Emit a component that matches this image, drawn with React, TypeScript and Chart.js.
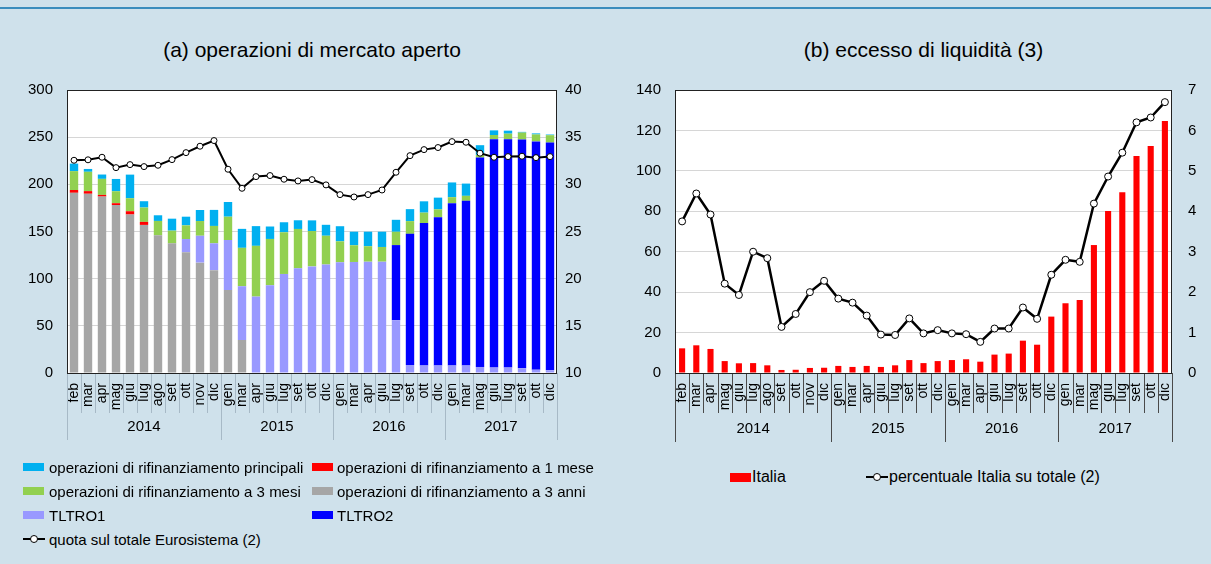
import React, { useEffect, useRef } from 'react';
import { Chart, registerables } from 'chart.js';

Chart.register(...registerables);

// ---------- data ----------
const monthLabels = ['feb','mar','apr','mag','giu','lug','ago','set','ott','nov','dic','gen','mar','apr','giu','lug','set','ott','dic','gen','mar','apr','giu','lug','set','ott','dic','gen','mar','mag','giu','lug','set','ott','dic'];
const yearLabels = ['2014', '2015', '2016', '2017'];

const ltro3y = [191, 190, 187, 178, 168, 157, 146, 137.5, 128, 117, 109, 88, 35, 0, 0, 0, 0, 0, 0, 0, 0, 0, 0, 0, 0, 0, 0, 0, 0, 0, 0, 0, 0, 0, 0];
const ltro1m = [3, 2.8, 1.8, 2, 3.5, 3.2, 0, 0, 0, 0, 0, 0, 0, 0, 0, 0, 0, 0, 0, 0, 0, 0, 0, 0, 0, 0, 0, 0, 0, 0, 0, 0, 0, 0, 0];
const tltro1 = [0, 0, 0, 0, 0, 0, 0, 0, 14, 28.5, 28.5, 53, 57, 81, 93, 105, 111, 113, 115, 117.4, 117.7, 118, 118, 56, 8.5, 8, 8, 8, 8, 6.4, 5.7, 5.7, 5, 3.5, 2.8];
const tltro2 = [0, 0, 0, 0, 0, 0, 0, 0, 0, 0, 0, 0, 0, 0, 0, 0, 0, 0, 0, 0, 0, 0, 0, 79.6, 139, 151, 157, 172, 174.5, 222, 242, 242, 242.5, 242, 241.5];
const ltro3m = [20, 20.5, 17, 12.7, 13.8, 15.2, 15.2, 13.4, 14.5, 15.6, 18.4, 24.7, 40.7, 53.8, 49.1, 44.2, 41.7, 37.5, 30.5, 22.2, 17.7, 16.4, 15.6, 14.1, 13.5, 11, 8.5, 6.4, 5.3, 2.8, 4.6, 6, 7.4, 7.4, 7.8];
const mro = [8, 3, 4.6, 13, 25, 6.7, 6, 12.7, 9.2, 11.7, 17, 15.6, 20.1, 20.9, 13.2, 10.6, 9.2, 11.3, 11.6, 16, 14.4, 15.4, 16.2, 12.7, 12.7, 12, 12.4, 15.6, 13, 10.3, 4.9, 3.2, 0.7, 1.1, 0.7];
const quota = [32.55, 32.6, 32.87, 31.77, 32.09, 31.88, 32.02, 32.62, 33.36, 34.04, 34.64, 31.6, 29.58, 30.82, 30.93, 30.54, 30.36, 30.5, 29.94, 28.91, 28.66, 28.91, 29.4, 31.28, 33.04, 33.68, 33.9, 34.53, 34.46, 33.3, 32.87, 32.94, 32.98, 32.83, 32.94];

const italia = [12.2, 13.7, 11.9, 5.9, 4.8, 4.9, 3.8, 1.5, 1.6, 2.5, 2.6, 3.5, 3.0, 3.5, 3.0, 3.8, 6.4, 4.9, 5.9, 6.4, 6.8, 5.6, 9.1, 9.6, 16.0, 14.0, 27.9, 34.5, 36.1, 63.3, 80.2, 89.4, 107.4, 112.3, 124.7];
const percentuale = [3.75, 4.44, 3.92, 2.21, 1.93, 3.0, 2.84, 1.14, 1.46, 2.0, 2.28, 1.84, 1.74, 1.42, 0.95, 0.94, 1.35, 0.98, 1.06, 0.98, 0.96, 0.77, 1.1, 1.1, 1.62, 1.34, 2.43, 2.8, 2.75, 4.19, 4.86, 5.45, 6.2, 6.32, 6.7];

const titleA = '(a) operazioni di mercato aperto';
const titleB = '(b) eccesso di liquidità (3)';

const L_MRO = 'operazioni di rifinanziamento principali';
const L_1M = 'operazioni di rifinanziamento a 1 mese';
const L_3M = 'operazioni di rifinanziamento a 3 mesi';
const L_3Y = 'operazioni di rifinanziamento a 3 anni';
const L_T1 = 'TLTRO1';
const L_T2 = 'TLTRO2';
const L_QUOTA = 'quota sul totale Eurosistema (2)';
const L_ITA = 'Italia';
const L_PERC = 'percentuale Italia su totale (2)';

// ---------- styles ----------
const BG = '#cfe1eb';
const FONT = "'Liberation Sans', Arial, Helvetica, sans-serif";
const C_MRO = '#00b0f0';
const C_1M = '#ff0000';
const C_3M = '#92d050';
const C_3Y = '#a6a6a6';
const C_T1 = '#9999ff';
const C_T2 = '#0000ff';
const C_ITA = '#ff0000';

Chart.defaults.font.family = FONT;
Chart.defaults.color = '#000';

const groupAxisPlugin = {
  id: 'groupAxis',
  beforeDraw(chart: any) {
    const { ctx, chartArea: ca } = chart;
    ctx.save();
    ctx.fillStyle = '#ffffff';
    ctx.fillRect(ca.left, ca.top, ca.right - ca.left, ca.bottom - ca.top);
    ctx.restore();
  },
  afterDraw(chart: any, _args: any, opts: any) {
    const { ctx, chartArea: ca, scales } = chart;
    const x = scales.x;
    const labels = chart.data.labels as string[];
    const n = labels.length;
    const starts = [0];
    labels.forEach((l, i) => { if (i > 0 && l === 'gen') starts.push(i); });
    const bound = (i: number) =>
      i <= 0 ? ca.left : i >= n ? ca.right : (x.getPixelForValue(i - 1) + x.getPixelForValue(i)) / 2;
    ctx.save();
    ctx.lineWidth = 1;
    ctx.strokeStyle = opts.sepColor;
    for (let i = 0; i <= n; i++) {
      const px = Math.round(bound(i)) + 0.5;
      const isYear = i === 0 || i === n || starts.includes(i);
      ctx.beginPath();
      ctx.moveTo(px, ca.bottom);
      ctx.lineTo(px, ca.bottom + (isYear ? opts.yearLen : opts.monthLen));
      ctx.stroke();
    }
    ctx.fillStyle = '#000';
    ctx.font = `${opts.yearFont}px ${FONT}`;
    ctx.textAlign = 'center';
    ctx.textBaseline = 'middle';
    (opts.years as string[]).forEach((yr, k) => {
      const a = bound(starts[k]);
      const b = bound(k + 1 < starts.length ? starts[k + 1] : n);
      ctx.fillText(yr, (a + b) / 2, ca.bottom + opts.yearOffset);
    });
    ctx.strokeStyle = opts.boxColor;
    ctx.strokeRect(Math.round(ca.left) + 0.5, Math.round(ca.top) + 0.5, Math.round(ca.right - ca.left) - 1, Math.round(ca.bottom - ca.top));
    ctx.restore();
  },
};

function barDs(label: string, data: number[], color: string) {
  return {
    type: 'bar' as const,
    label,
    data,
    backgroundColor: color,
    borderWidth: 0,
    barPercentage: 0.6,
    categoryPercentage: 1,
    yAxisID: 'y',
    order: 1,
  };
}

function leftConfig(): any {
  return {
    type: 'bar',
    data: {
      labels: monthLabels,
      datasets: [
        {
          type: 'line',
          label: L_QUOTA,
          data: quota,
          yAxisID: 'y1',
          borderColor: '#000',
          borderWidth: 2,
          pointRadius: 3,
          pointBackgroundColor: '#fff',
          pointBorderColor: '#000',
          pointBorderWidth: 1,
          tension: 0,
          order: 0,
        },
        barDs(L_3Y, ltro3y, C_3Y),
        barDs(L_1M, ltro1m, C_1M),
        barDs(L_T1, tltro1, C_T1),
        barDs(L_T2, tltro2, C_T2),
        barDs(L_3M, ltro3m, C_3M),
        barDs(L_MRO, mro, C_MRO),
      ],
    },
    options: {
      responsive: false,
      animation: false,
      devicePixelRatio: 1,
      layout: { padding: { top: 30, left: 0, right: 0, bottom: 0 } },
      plugins: {
        legend: { display: false },
        tooltip: { enabled: false },
        title: { display: false },
        groupAxis: { sepColor: '#a7b9c6', boxColor: '#222', monthLen: 40, yearLen: 67, yearOffset: 54, yearFont: 15, years: yearLabels },
      },
      scales: {
        x: {
          stacked: true,
          offset: true,
          grid: { display: false, drawTicks: false },
          border: { display: false },
          ticks: { autoSkip: false, maxRotation: 90, minRotation: 90, padding: 10, font: { size: 14 }, color: '#000' },
          afterFit: (s: any) => { s.height = 87; },
        },
        y: {
          stacked: true,
          position: 'left',
          min: 0,
          max: 300,
          ticks: { stepSize: 50, padding: 14, font: { size: 15 }, color: '#000' },
          grid: { color: '#d6d6d6', drawTicks: false },
          border: { display: false },
          afterFit: (s: any) => { s.width = 67; },
        },
        y1: {
          position: 'right',
          min: 10,
          max: 40,
          ticks: { stepSize: 5, padding: 8, font: { size: 15 }, color: '#000' },
          grid: { display: false, drawTicks: false },
          border: { display: false },
          afterFit: (s: any) => { s.width = 48; },
        },
      },
    },
    plugins: [groupAxisPlugin],
  };
}

function rightConfig(): any {
  return {
    type: 'bar',
    data: {
      labels: monthLabels,
      datasets: [
        {
          type: 'line',
          label: L_PERC,
          data: percentuale,
          yAxisID: 'y1',
          borderColor: '#000',
          borderWidth: 2.5,
          pointRadius: 3.5,
          pointBackgroundColor: '#fff',
          pointBorderColor: '#000',
          pointBorderWidth: 1,
          tension: 0,
          order: 0,
        },
        {
          type: 'bar',
          label: L_ITA,
          data: italia,
          backgroundColor: C_ITA,
          borderWidth: 0,
          barPercentage: 0.43,
          categoryPercentage: 1,
          yAxisID: 'y',
          order: 1,
        },
      ],
    },
    options: {
      responsive: false,
      animation: false,
      devicePixelRatio: 1,
      layout: { padding: { top: 30, left: 0, right: 0, bottom: 0 } },
      plugins: {
        legend: { display: false },
        tooltip: { enabled: false },
        title: { display: false },
        groupAxis: { sepColor: '#4a4a4a', boxColor: '#222', monthLen: 40, yearLen: 69, yearOffset: 56, yearFont: 15, years: yearLabels },
      },
      scales: {
        x: {
          offset: true,
          grid: { display: false, drawTicks: false },
          border: { display: false },
          ticks: { autoSkip: false, maxRotation: 90, minRotation: 90, padding: 10, font: { size: 14 }, color: '#000' },
          afterFit: (s: any) => { s.height = 87; },
        },
        y: {
          position: 'left',
          min: 0,
          max: 140,
          ticks: { stepSize: 20, padding: 14, font: { size: 15 }, color: '#000' },
          grid: { color: '#d6d6d6', drawTicks: false },
          border: { display: false },
          afterFit: (s: any) => { s.width = 70; },
        },
        y1: {
          position: 'right',
          min: 0,
          max: 7,
          ticks: { stepSize: 1, padding: 16, font: { size: 15 }, color: '#000' },
          grid: { display: false, drawTicks: false },
          border: { display: false },
          afterFit: (s: any) => { s.width = 39; },
        },
      },
    },
    plugins: [groupAxisPlugin],
  };
}

function Swatch({ color, left, top }: { color: string; left: number; top: number }) {
  return <div style={{ position: 'absolute', left, top, width: 21, height: 8, background: color }} />;
}

function LineSym({ left, top, w }: { left: number; top: number; w: number }) {
  return (
    <div style={{ position: 'absolute', left, top, width: w, height: 10 }}>
      <div style={{ position: 'absolute', left: 0, top: 4, width: w, height: 2, background: '#000' }} />
      <div style={{ position: 'absolute', left: w / 2 - 4, top: 1, width: 6, height: 6, borderRadius: '50%', background: '#fff', border: '1px solid #000' }} />
    </div>
  );
}

function Txt({ children, left, top, size }: { children: React.ReactNode; left: number; top: number; size: number }) {
  return (
    <div style={{ position: 'absolute', left, top, fontSize: size, lineHeight: '1', whiteSpace: 'nowrap', color: '#000' }}>
      {children}
    </div>
  );
}

export default function App() {
  const leftRef = useRef<HTMLCanvasElement>(null);
  const rightRef = useRef<HTMLCanvasElement>(null);

  useEffect(() => {
    const c1 = new Chart(leftRef.current as HTMLCanvasElement, leftConfig());
    const c2 = new Chart(rightRef.current as HTMLCanvasElement, rightConfig());
    return () => {
      c1.destroy();
      c2.destroy();
    };
  }, []);

  const lf = 15;
  const rf = 16;
  const rows = [467, 491, 515, 539];
  const c1s = 23;
  const c1t = 49;
  const c2s = 312;
  const c2t = 337;

  return (
    <div style={{ position: 'absolute', left: 0, top: 0, width: 1211, height: 564, background: BG, overflow: 'hidden', fontFamily: FONT }}>
      <div style={{ position: 'absolute', left: 0, top: 7, width: 1211, height: 2, background: '#3b8dbd' }} />
      <div style={{ position: 'absolute', left: 67, width: 490, top: 39, textAlign: 'center', fontSize: 21, lineHeight: '22px' }}>{titleA}</div>
      <div style={{ position: 'absolute', left: 675, width: 497, top: 39, textAlign: 'center', fontSize: 21, lineHeight: '22px' }}>{titleB}</div>

      <canvas ref={leftRef} width={605} height={400} style={{ position: 'absolute', left: 0, top: 60, width: 605, height: 400 }} />
      <canvas ref={rightRef} width={606} height={400} style={{ position: 'absolute', left: 605, top: 60, width: 606, height: 400 }} />

      {/* left legend */}
      <Swatch color={C_MRO} left={c1s} top={rows[0] - 4} />
      <Txt left={c1t} top={rows[0] - lf / 2} size={lf}>{L_MRO}</Txt>
      <Swatch color={C_1M} left={c2s} top={rows[0] - 4} />
      <Txt left={c2t} top={rows[0] - lf / 2} size={lf}>{L_1M}</Txt>
      <Swatch color={C_3M} left={c1s} top={rows[1] - 4} />
      <Txt left={c1t} top={rows[1] - lf / 2} size={lf}>{L_3M}</Txt>
      <Swatch color={C_3Y} left={c2s} top={rows[1] - 4} />
      <Txt left={c2t} top={rows[1] - lf / 2} size={lf}>{L_3Y}</Txt>
      <Swatch color={C_T1} left={c1s} top={rows[2] - 4} />
      <Txt left={c1t} top={rows[2] - lf / 2} size={lf}>{L_T1}</Txt>
      <Swatch color={C_T2} left={c2s} top={rows[2] - 4} />
      <Txt left={c2t} top={rows[2] - lf / 2} size={lf}>{L_T2}</Txt>
      <LineSym left={c1s} top={rows[3] - 5} w={22} />
      <Txt left={c1t} top={rows[3] - lf / 2} size={lf}>{L_QUOTA}</Txt>

      {/* right legend */}
      <div style={{ position: 'absolute', left: 730, top: 473, width: 21, height: 9, background: C_ITA }} />
      <Txt left={752} top={477 - rf / 2} size={rf}>{L_ITA}</Txt>
      <LineSym left={866} top={472} w={22} />
      <Txt left={889} top={477 - rf / 2} size={rf}>{L_PERC}</Txt>
    </div>
  );
}
